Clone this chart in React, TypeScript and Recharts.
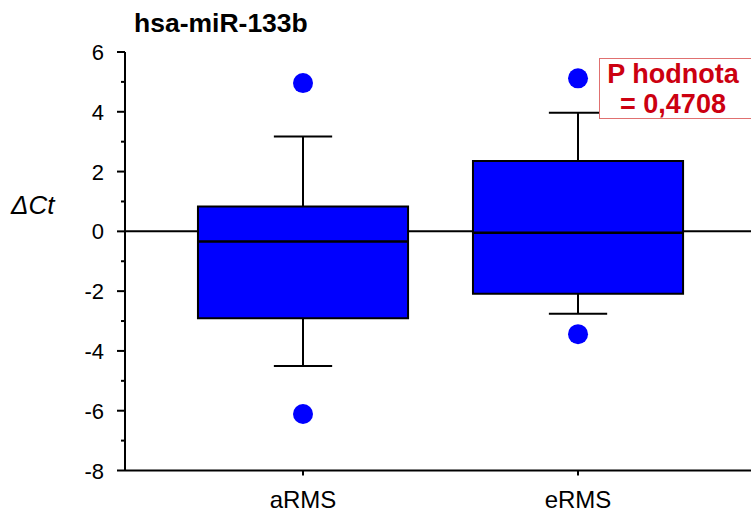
import React from 'react';
import {
  ComposedChart,
  XAxis,
  YAxis,
  Scatter,
  ReferenceArea,
  ReferenceLine,
} from 'recharts';

// ---- data ----
const categories = ['aRMS', 'eRMS'];
const categoryPositions = [1, 2];
const q1Values = [-2.91, -2.09];
const medianValues = [-0.34, -0.05];
const q3Values = [0.83, 2.35];
const whiskerLow = [-4.5, -2.76];
const whiskerHigh = [3.17, 3.97];
const outliersA = [4.96, -6.11];
const outliersE = [5.12, -3.44];
const yTicks = [-8, -7, -6, -5, -4, -3, -2, -1, 0, 1, 2, 3, 4, 5, 6];
const titleText = 'hsa-miR-133b';
const yLabel = 'ΔCt';
const pLabel1 = 'P hodnota';
const pLabel2 = '= 0,4708';

const outlierData = [
  ...outliersA.map((v) => ({ x: categoryPositions[0], y: v })),
  ...outliersE.map((v) => ({ x: categoryPositions[1], y: v })),
];

// ---- layout ----
const W = 751;
const H = 513;
const FONT = '"Liberation Sans", Arial, sans-serif';
const BOX_HALF = 0.382;
const CAP_HALF = 0.106;
const X_DOMAIN: [number, number] = [0.3527, 2.629];
const TICK_SIZE = 8;
const TICK_MARGIN = 13;
const BLUE = '#0000ff';

const YTick = (props: any) => {
  const { x, y, payload } = props;
  const axisX = x + TICK_MARGIN + TICK_SIZE;
  const major = payload.value % 2 === 0;
  return (
    <g>
      <line
        x1={axisX - (major ? 8 : 4)}
        x2={axisX}
        y1={y}
        y2={y}
        stroke="#000"
        strokeWidth={2}
      />
      {major && (
        <text
          x={x}
          y={y}
          dy={8}
          textAnchor="end"
          fontSize={22}
          fontFamily={FONT}
          fill="#000"
        >
          {payload.value}
        </text>
      )}
    </g>
  );
};

const XTick = (props: any) => {
  const { x, y, payload } = props;
  const idx = categoryPositions.indexOf(payload.value);
  return (
    <text
      x={x}
      y={y}
      dy={28}
      textAnchor="middle"
      fontSize={24}
      fontFamily={FONT}
      fill="#000"
    >
      {categories[idx]}
    </text>
  );
};

const OutlierDot = (props: any) => (
  <circle cx={props.cx} cy={props.cy} r={10} fill={BLUE} />
);

export default function App() {
  return (
    <div style={{ position: 'relative', width: W, height: H, fontFamily: FONT }}>
      <style>{'body{margin:0;overflow:hidden}'}</style>
      <ComposedChart
        width={W}
        height={H}
        margin={{ top: 52, right: 0, left: 0, bottom: 0 }}
      >
        <XAxis
          xAxisId="top"
          orientation="top"
          type="number"
          dataKey="x"
          domain={X_DOMAIN}
          allowDataOverflow
          ticks={categoryPositions}
          tick={false}
          tickSize={5}
          height={0}
          axisLine={{ stroke: '#000', strokeWidth: 2 }}
          tickLine={{ stroke: '#000', strokeWidth: 2 }}
        />
        <XAxis
          type="number"
          dataKey="x"
          domain={X_DOMAIN}
          allowDataOverflow
          ticks={categoryPositions}
          tick={<XTick />}
          tickSize={5}
          tickMargin={4}
          height={42.5}
          axisLine={{ stroke: '#000', strokeWidth: 2 }}
          tickLine={{ stroke: '#000', strokeWidth: 2 }}
        />
        <YAxis
          type="number"
          dataKey="y"
          domain={[-8, 6]}
          ticks={yTicks}
          interval={0}
          width={125}
          tickSize={TICK_SIZE}
          tickMargin={TICK_MARGIN}
          tick={<YTick />}
          tickLine={false}
          axisLine={{ stroke: '#000', strokeWidth: 2 }}
        />
        <ReferenceLine y={0} stroke="#000" strokeWidth={2} zIndex={50} />
        {categoryPositions.map((c, i) => (
          <ReferenceArea
            key={'box' + i}
            x1={c - BOX_HALF}
            x2={c + BOX_HALF}
            y1={q1Values[i]}
            y2={q3Values[i]}
            fill={BLUE}
            fillOpacity={1}
            stroke="#000"
            strokeWidth={2}
            zIndex={100}
          />
        ))}
        {categoryPositions.map((c, i) => (
          <ReferenceLine
            key={'med' + i}
            segment={[
              { x: c - BOX_HALF, y: medianValues[i] },
              { x: c + BOX_HALF, y: medianValues[i] },
            ]}
            stroke="#000"
            strokeWidth={2.5}
            zIndex={400}
          />
        ))}
        {categoryPositions.map((c, i) => (
          <ReferenceLine
            key={'wh' + i}
            segment={[
              { x: c, y: q3Values[i] },
              { x: c, y: whiskerHigh[i] },
            ]}
            stroke="#000"
            strokeWidth={2}
            zIndex={400}
          />
        ))}
        {categoryPositions.map((c, i) => (
          <ReferenceLine
            key={'wl' + i}
            segment={[
              { x: c, y: q1Values[i] },
              { x: c, y: whiskerLow[i] },
            ]}
            stroke="#000"
            strokeWidth={2}
            zIndex={400}
          />
        ))}
        {categoryPositions.map((c, i) => (
          <ReferenceLine
            key={'ch' + i}
            segment={[
              { x: c - CAP_HALF, y: whiskerHigh[i] },
              { x: c + CAP_HALF, y: whiskerHigh[i] },
            ]}
            stroke="#000"
            strokeWidth={2}
            zIndex={400}
          />
        ))}
        {categoryPositions.map((c, i) => (
          <ReferenceLine
            key={'cl' + i}
            segment={[
              { x: c - CAP_HALF, y: whiskerLow[i] },
              { x: c + CAP_HALF, y: whiskerLow[i] },
            ]}
            stroke="#000"
            strokeWidth={2}
            zIndex={400}
          />
        ))}
        <Scatter
          data={outlierData}
          dataKey="y"
          shape={<OutlierDot />}
          isAnimationActive={false}
        />
      </ComposedChart>
      <div
        style={{
          position: 'absolute',
          left: 134,
          top: 7,
          fontSize: 26.5,
          fontWeight: 'bold',
          lineHeight: '32px',
          color: '#000',
          whiteSpace: 'nowrap',
        }}
      >
        {titleText}
      </div>
      <div
        style={{
          position: 'absolute',
          left: 11,
          top: 190,
          fontSize: 26,
          fontStyle: 'italic',
          lineHeight: '30px',
          color: '#000',
          whiteSpace: 'nowrap',
        }}
      >
        {yLabel}
      </div>
      <div
        style={{
          position: 'absolute',
          left: 599,
          top: 58,
          width: 170,
          height: 61,
          boxSizing: 'border-box',
          border: '1px solid #e07070',
          background: '#fff',
        }}
      >
        <div
          style={{
            width: 146,
            textAlign: 'center',
            color: '#cc0010',
            fontWeight: 'bold',
            fontSize: 27,
            lineHeight: '30px',
            whiteSpace: 'nowrap',
          }}
        >
          <div>{pLabel1}</div>
          <div>{pLabel2}</div>
        </div>
      </div>
    </div>
  );
}
